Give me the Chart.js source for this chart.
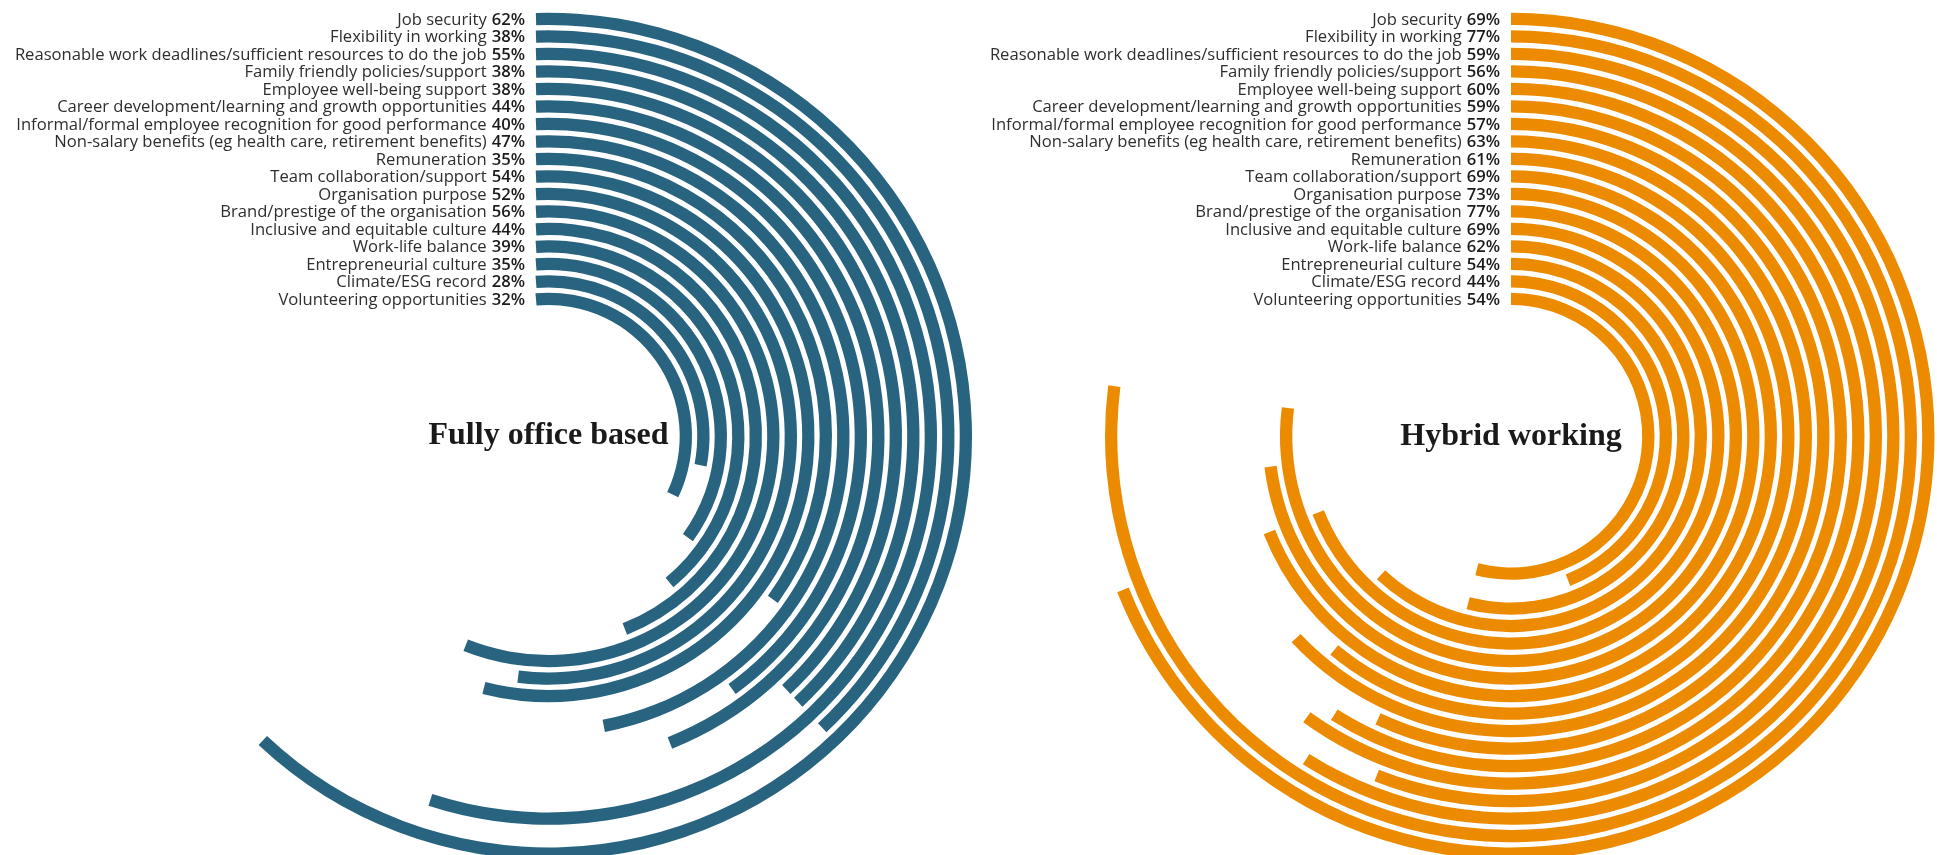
<!DOCTYPE html>
<html>
<head>
<meta charset="utf-8">
<title>What matters to employees: fully office based vs hybrid working</title>
<script src="https://cdn.jsdelivr.net/npm/chart.js@4.4.1/dist/chart.umd.min.js"></script>
<style>
  html, body { margin: 0; padding: 0; background: #fff; overflow: hidden; }
  .wrap { position: relative; width: 1937px; height: 855px; }
  canvas { position: absolute; left: 0; top: 0; }
</style>
</head>
<body>
<div class="wrap">
  <canvas id="officeChart" width="1937" height="860"></canvas>
  <canvas id="hybridChart" width="1937" height="860"></canvas>
</div>
<script>
const categories = [
  'Job security',
  'Flexibility in working',
  'Reasonable work deadlines/sufficient resources to do the job',
  'Family friendly policies/support',
  'Employee well-being support',
  'Career development/learning and growth opportunities',
  'Informal/formal employee recognition for good performance',
  'Non-salary benefits (eg health care, retirement benefits)',
  'Remuneration',
  'Team collaboration/support',
  'Organisation purpose',
  'Brand/prestige of the organisation',
  'Inclusive and equitable culture',
  'Work-life balance',
  'Entrepreneurial culture',
  'Climate/ESG record',
  'Volunteering opportunities'
];
const officeValues = [62, 38, 55, 38, 38, 44, 40, 47, 35, 54, 52, 56, 44, 39, 35, 28, 32];
const hybridValues = [69, 77, 59, 56, 60, 59, 57, 63, 61, 69, 73, 77, 69, 62, 54, 44, 54];

const officeTitle = 'Fully office based';
const hybridTitle = 'Hybrid working';

// ring geometry (px)
const RING = 12.3;
const GAP = 5.2;
const RADIUS = 423.5;
const CUTOUT = RADIUS - (categories.length * RING + (categories.length - 1) * GAP);

function buildDatasets(values, colour, lead) {
  const sets = [];
  values.forEach((v, i) => {
    // office rings start on a vertical line slightly left of 12 o'clock
    const mid = RADIUS - RING / 2 - i * (RING + GAP);
    const delta = Math.asin(lead / mid) * 180 / Math.PI;
    sets.push({
      label: categories[i],
      data: [v, 100 - v],
      backgroundColor: [colour, 'rgba(0,0,0,0)'],
      weight: RING,
      rotation: -delta,
      circumference: 360 + 100 * delta / v
    });
    if (i < values.length - 1) {
      sets.push({ spacer: true, data: [100], backgroundColor: ['rgba(0,0,0,0)'], weight: GAP });
    }
  });
  return sets;
}

const ringLabels = {
  id: 'ringLabels',
  afterDraw(chart, args, opts) {
    const ctx = chart.ctx;
    ctx.save();
    ctx.textAlign = 'right';
    ctx.textBaseline = 'middle';
    chart.data.datasets.forEach((ds, idx) => {
      if (ds.spacer) return;
      const arc = chart.getDatasetMeta(idx).data[0];
      const y = arc.y - (arc.innerRadius + arc.outerRadius) / 2 + 1;
      const x = arc.x - opts.lead - 11;
      const pct = ds.data[0] + '%';
      ctx.font = '600 16.6px "Open Sans"';
      ctx.fillStyle = '#1b1b1b';
      ctx.fillText(pct, x, y);
      const w = ctx.measureText(pct).width;
      ctx.font = '400 16.6px "Open Sans"';
      ctx.fillStyle = '#2e2e2e';
      ctx.fillText(ds.label, x - w - 5, y);
    });
    const c = chart.getDatasetMeta(0).data[0];
    ctx.textAlign = 'center';
    ctx.textBaseline = 'alphabetic';
    ctx.font = 'bold 32px "Liberation Serif"';
    ctx.fillStyle = '#1a1a1a';
    ctx.fillText(opts.title, c.x, c.y + opts.titleDy);
    ctx.restore();
  }
};

function makeChart(id, values, colour, padLeft, lead, title, titleDy) {
  const ctx = document.getElementById(id).getContext('2d');
  return new Chart(ctx, {
    type: 'doughnut',
    data: {
      labels: ['value', 'rest'],
      datasets: buildDatasets(values, colour, lead)
    },
    options: {
      responsive: false,
      animation: false,
      events: [],
      cutout: CUTOUT,
      borderWidth: 0,
      hoverOffset: 0,
      layout: {
        padding: { left: padLeft, right: 1937 - padLeft - 2 * RADIUS, top: 12.5, bottom: 0 }
      },
      plugins: {
        legend: { display: false },
        tooltip: { enabled: false },
        ringLabels: { lead: lead, title: title, titleDy: titleDy }
      }
    },
    plugins: [ringLabels]
  });
}

makeChart('officeChart', officeValues, '#28647f', 125, 12.5, officeTitle, 8);
makeChart('hybridChart', hybridValues, '#ed8b00', 1087.5, 0, hybridTitle, 9);
</script>
</body>
</html>
